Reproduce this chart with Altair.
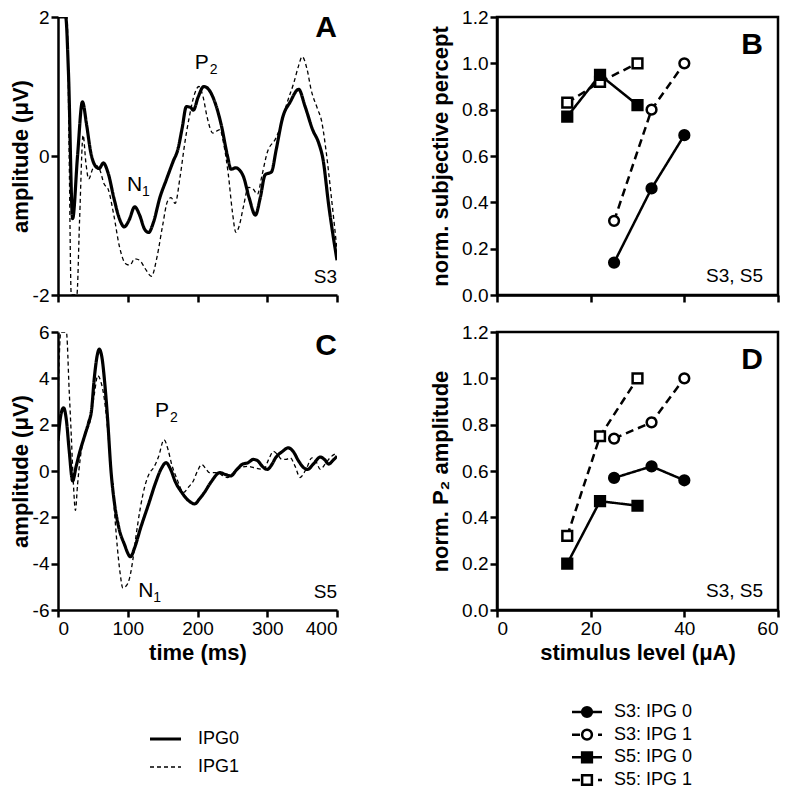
import altair as alt
import pandas as pd

FONT = "Liberation Sans"

# ---------------- Panel A (S3) waveforms: (time ms, amplitude uV); values beyond the axis are held at its limit ----------------
a_ipg0 = [(0, 2.0), (11, 2.0), (15, 1.2), (21, -0.9), (28, 0.0), (35, 0.78), (41, 0.45), (47, 0.05),
          (54, -0.15), (59, -0.18), (65, -0.1), (72, -0.25), (80, -0.6), (88, -0.9), (95, -1.02),
          (102, -0.92), (110, -0.73), (117, -0.85), (124, -1.05), (130, -1.1), (137, -0.95),
          (146, -0.6), (155, -0.35), (165, -0.08), (172, 0.1), (178, 0.4), (184, 0.71), (190, 0.7),
          (194, 0.66), (201, 0.85), (209, 1.0), (215, 0.97), (222, 0.85), (234, 0.45), (243, 0.0),
          (248, -0.19), (255, -0.17), (260, -0.2), (266, -0.3), (274, -0.6), (283, -0.85),
          (290, -0.6), (297, -0.27), (306, -0.23), (313, 0.1), (322, 0.55), (333, 0.78),
          (345, 0.96), (354, 0.72), (365, 0.38), (374, 0.18), (380, -0.05), (388, -0.7), (400, -1.5)]
a_ipg1 = [(0, 2.0), (13, 2.0), (16, 0.0), (19, -2.0), (27, -2.0), (31, -0.9), (36, 0.3), (40, -0.1),
          (44, -0.33), (50, -0.18), (55, -0.14), (60, -0.2), (66, -0.4), (72, -0.48), (80, -0.85),
          (88, -1.3), (97, -1.55), (103, -1.57), (110, -1.48), (117, -1.5), (125, -1.62),
          (134, -1.73), (142, -1.45), (150, -1.0), (157, -0.65), (162, -0.6), (168, -0.68),
          (175, -0.3), (182, 0.2), (188, 0.55), (196, 0.9), (202, 1.0), (208, 0.85), (214, 0.55),
          (222, 0.33), (232, 0.38), (238, 0.15), (244, -0.25), (250, -0.8), (255, -1.1),
          (260, -1.0), (266, -0.72), (273, -0.45), (280, -0.48), (286, -0.55), (292, -0.3),
          (300, 0.05), (312, 0.25), (320, 0.45), (328, 0.75), (338, 1.05), (345, 1.3), (350, 1.43),
          (357, 1.25), (363, 0.95), (372, 0.68), (378, 0.5), (384, 0.1), (392, -0.6), (400, -1.35)]

# ---------------- Panel C (S5) waveforms ----------------
c_ipg0 = [(0, 1.3), (4, 2.4), (8, 2.73), (12, 2.2), (16, 0.9), (21, -0.43), (26, 0.2), (31, 0.8),
          (38, 1.5), (44, 2.1), (48, 2.6), (52, 4.0), (57, 5.1), (59, 5.26), (63, 4.9), (67, 3.8),
          (71, 2.3), (76, 0.0), (81, -1.4), (87, -2.42), (95, -3.15), (104, -3.7), (110, -3.3),
          (118, -2.5), (130, -1.42), (140, -0.5), (148, 0.1), (155, 0.36), (161, 0.1), (168, -0.45),
          (178, -0.95), (188, -1.3), (196, -1.42), (203, -1.2), (210, -0.92), (220, -0.45),
          (232, -0.07), (240, -0.15), (248, -0.21), (256, 0.05), (265, 0.3), (272, 0.35),
          (280, 0.5), (286, 0.45), (293, 0.2), (300, 0.07), (306, 0.25), (312, 0.57), (322, 0.85),
          (330, 1.0), (337, 0.85), (345, 0.43), (352, 0.15), (358, 0.07), (366, 0.3), (376, 0.6),
          (382, 0.5), (388, 0.3), (394, 0.45), (400, 0.64)]
c_ipg1 = [(0, 3.0), (4, 6.0), (12, 6.0), (16, 3.5), (19, 1.56), (22, -0.5), (25, -1.7), (28, -0.6),
          (32, 0.57), (38, 1.56), (46, 2.13), (52, 3.3), (57, 4.12), (61, 3.9), (66, 3.2),
          (71, 1.85), (76, 0.0), (80, -1.4), (85, -3.27), (89, -4.4), (93, -5.05), (98, -4.95),
          (102, -4.69), (107, -3.9), (111, -2.99), (118, -1.6), (125, -0.6), (131, -0.1),
          (137, 0.14), (144, 0.6), (152, 1.35), (158, 0.9), (163, 0.28), (170, -0.3), (180, -0.92),
          (187, -0.7), (194, -0.43), (200, 0.0), (206, 0.28), (212, 0.1), (217, -0.07),
          (229, -0.07), (236, -0.2), (243, -0.28), (252, -0.05), (262, 0.14), (272, 0.2),
          (281, 0.14), (295, 0.07), (302, 0.5), (309, 0.85), (315, 0.7), (321, 0.5), (327, 0.5),
          (333, 0.57), (340, 0.2), (347, -0.28), (356, 0.1), (364, 0.57), (370, 0.4), (376, 0.07),
          (383, 0.3), (390, 0.57), (400, 0.78)]

# ---------------- Panels B / D: stimulus level (uA) vs normalised values ----------------
legend_order = ["S3: IPG 0", "S3: IPG 1", "S5: IPG 0", "S5: IPG 1"]
s3_levels = [25, 33, 40]
s5_levels = [15, 22, 30]
b_s3_ipg0 = [0.14, 0.46, 0.69]
b_s3_ipg1 = [0.32, 0.80, 1.00]
b_s5_ipg0 = [0.77, 0.95, 0.82]
b_s5_ipg1 = [0.83, 0.92, 1.00]
d_s3_ipg0 = [0.57, 0.62, 0.56]
d_s3_ipg1 = [0.74, 0.81, 1.00]
d_s5_ipg0 = [0.20, 0.47, 0.45]
d_s5_ipg1 = [0.32, 0.75, 1.00]

wave_series = ["IPG0", "IPG1"]

# annotation texts (data coordinates)
a_peaks = {"lab": ["N", "P"], "sub": ["1", "2"], "t": [99, 196], "v": [-0.5, 1.25]}
c_peaks = {"lab": ["P", "N"], "sub": ["2", "1"], "t": [139, 115], "v": [2.33, -5.44]}

WL, WR, H = 279, 281, 278


def wave_df(s0, s1):
    rows = [{"t": t, "v": v, "series": "IPG0"} for t, v in s0]
    rows += [{"t": t, "v": v, "series": "IPG1"} for t, v in s1]
    return pd.DataFrame(rows)


wave_dash = alt.Scale(domain=wave_series, range=[[1, 0], [4, 3]])
wave_width = alt.Scale(domain=wave_series, range=[3.2, 1.3])


def wave_panel(df, ydom, yvals, show_x, letter, letter_v, subj, subj_v, peaks):
    xax = alt.Axis(values=[0, 100, 200, 300, 400], labels=show_x,
                   title="time (ms)" if show_x else None)
    yax = alt.Axis(values=yvals, title="amplitude (\u03bcV)", labelExpr="'' + datum.value",
                   titlePadding=0)
    x = alt.X("t:Q", scale=alt.Scale(domain=[0, 400], nice=False), axis=xax)
    y = alt.Y("v:Q", scale=alt.Scale(domain=ydom, nice=False), axis=yax)
    lines = alt.Chart(df).mark_line(color="black", interpolate="monotone", clip=True).encode(
        x=x, y=y,
        strokeDash=alt.StrokeDash("series:N", scale=wave_dash, legend=None),
        strokeWidth=alt.StrokeWidth("series:N", scale=wave_width, legend=None),
    )
    ldf = pd.DataFrame({"t": [400], "v": [letter_v], "txt": [letter]})
    let = alt.Chart(ldf).mark_text(font=FONT, fontSize=30, fontWeight="bold", align="right",
                                   baseline="alphabetic", color="black").encode(
        x="t:Q", y="v:Q", text="txt:N")
    sdf = pd.DataFrame({"t": [400], "v": [subj_v], "txt": [subj]})
    sub = alt.Chart(sdf).mark_text(font=FONT, fontSize=19, align="right", baseline="alphabetic",
                                   color="black").encode(x="t:Q", y="v:Q", text="txt:N")
    pdf = pd.DataFrame(peaks)
    pk = alt.Chart(pdf).mark_text(font=FONT, fontSize=21, align="left", baseline="alphabetic",
                                  color="black").encode(x="t:Q", y="v:Q", text="lab:N")
    pks = alt.Chart(pdf).mark_text(font=FONT, fontSize=14, align="left", baseline="alphabetic",
                                   dx=15, dy=5, color="black").encode(x="t:Q", y="v:Q", text="sub:N")
    return alt.layer(lines, let, sub, pk, pks).properties(
        width=WL, height=H, view=alt.ViewBackground(stroke="transparent"))


def stim_df(s3a, s3b, s5a, s5b):
    rows = []
    for name, lv, vals in [("S3: IPG 0", s3_levels, s3a), ("S3: IPG 1", s3_levels, s3b),
                           ("S5: IPG 1", s5_levels, s5b), ("S5: IPG 0", s5_levels, s5a)]:
        for l, v in zip(lv, vals):
            rows.append({"level": l, "value": v, "series": name})
    return pd.DataFrame(rows)


dash_scale = alt.Scale(domain=legend_order, range=[[1, 0], [8, 5], [1, 0], [8, 5]])
shape_scale = alt.Scale(domain=legend_order, range=["circle", "circle", "square", "square"])
fill_scale = alt.Scale(domain=legend_order, range=["black", "white", "black", "white"])
size_scale = alt.Scale(domain=legend_order, range=[95, 95, 135, 135])


def stim_panel(df, ytitle, show_x, letter):
    if show_x:
        xax = alt.Axis(values=[0, 20, 40, 60], labels=True, labelFlush=True,
                       title="stimulus level (\u03bcA)")
    else:
        xax = alt.Axis(values=[0, 20, 40, 60], labels=False, title=None)
    yax = alt.Axis(values=[0, 0.2, 0.4, 0.6, 0.8, 1.0, 1.2], format=".1f", title=ytitle,
                   titlePadding=9)
    x = alt.X("level:Q", scale=alt.Scale(domain=[0, 60], nice=False), axis=xax)
    y = alt.Y("value:Q", scale=alt.Scale(domain=[0, 1.2], nice=False), axis=yax)
    lines = alt.Chart(df).mark_line(color="black", strokeWidth=2.5).encode(
        x=x, y=y, detail="series:N",
        strokeDash=alt.StrokeDash("series:N", scale=dash_scale, legend=None))
    pts = alt.Chart(df).mark_point(filled=True, opacity=1, stroke="black", strokeWidth=2.5).encode(
        x=x, y=y,
        shape=alt.Shape("series:N", scale=shape_scale, legend=None),
        fill=alt.Fill("series:N", scale=fill_scale, legend=None),
        size=alt.Size("series:N", scale=size_scale, legend=None))
    ldf = pd.DataFrame({"level": [56.8], "value": [1.04], "txt": [letter]})
    let = alt.Chart(ldf).mark_text(font=FONT, fontSize=30, fontWeight="bold", align="right",
                                   baseline="alphabetic", color="black").encode(
        x="level:Q", y="value:Q", text="txt:N")
    sdf = pd.DataFrame({"level": [56.8], "value": [0.055], "txt": ["S3, S5"]})
    sub = alt.Chart(sdf).mark_text(font=FONT, fontSize=19, align="right", baseline="alphabetic",
                                   color="black").encode(x="level:Q", y="value:Q", text="txt:N")
    return alt.layer(lines, pts, let, sub).properties(
        width=WR, height=H, view=alt.ViewBackground(stroke="black", strokeWidth=2.5))


panel_a = wave_panel(wave_df(a_ipg0, a_ipg1), [-2, 2], [-2, 0, 2], False, "A", 1.71, "S3", -1.83, a_peaks)
panel_c = wave_panel(wave_df(c_ipg0, c_ipg1), [-6, 6], [-6, -4, -2, 0, 2, 4, 6], True, "C", 5.02, "S5", -5.49, c_peaks)
panel_b = stim_panel(stim_df(b_s3_ipg0, b_s3_ipg1, b_s5_ipg0, b_s5_ipg1), "norm. subjective percept", False, "B")
panel_d = stim_panel(stim_df(d_s3_ipg0, d_s3_ipg1, d_s5_ipg0, d_s5_ipg1), "norm. P\u2082 amplitude", True, "D")

# ---------------- legends ----------------
LH = 141
lw = pd.DataFrame({"label": wave_series})
ly = alt.Y("label:N", scale=alt.Scale(type="point", domain=wave_series, range=[92, 120], padding=0), axis=None)
leg_left = alt.layer(
    alt.Chart(lw).mark_rule(color="black").encode(
        x=alt.value(92), x2=alt.value(123), y=ly,
        strokeDash=alt.StrokeDash("label:N", scale=wave_dash, legend=None),
        strokeWidth=alt.StrokeWidth("label:N", scale=wave_width, legend=None)),
    alt.Chart(lw).mark_text(font=FONT, fontSize=18, align="left", baseline="middle", color="black").encode(
        x=alt.value(140), y=ly, text="label:N"),
).properties(width=WL, height=LH, view=alt.ViewBackground(stroke="transparent"))

ls = pd.DataFrame({"label": legend_order})
ry = alt.Y("label:N", scale=alt.Scale(type="point", domain=legend_order, range=[65, 133], padding=0), axis=None)
leg_right = alt.layer(
    alt.Chart(ls).mark_rule(color="black", strokeWidth=2.5).encode(
        x=alt.value(75), x2=alt.value(105), y=ry,
        strokeDash=alt.StrokeDash("label:N", scale=dash_scale, legend=None)),
    alt.Chart(ls).mark_point(filled=True, opacity=1, stroke="black", strokeWidth=2.5).encode(
        x=alt.value(90), y=ry,
        shape=alt.Shape("label:N", scale=shape_scale, legend=None),
        fill=alt.Fill("label:N", scale=fill_scale, legend=None),
        size=alt.Size("label:N", scale=size_scale, legend=None)),
    alt.Chart(ls).mark_text(font=FONT, fontSize=18, align="left", baseline="middle", color="black").encode(
        x=alt.value(117), y=ry, text="label:N"),
).properties(width=WR, height=LH, view=alt.ViewBackground(stroke="transparent"))

chart = alt.concat(panel_a, panel_b, panel_c, panel_d, leg_left, leg_right,
                   columns=2, spacing={"row": 37, "column": 160}, bounds="flush").properties(
    padding={"left": 0, "top": -2, "right": 0, "bottom": 0}
).resolve_scale(x="independent", y="independent", strokeDash="independent", shape="independent",
                fill="independent", size="independent", strokeWidth="independent"
).configure_axis(
    domainColor="black", domainWidth=2.5, tickColor="black", tickWidth=2.5, tickSize=7,
    labelFont=FONT, labelFontSize=19, labelColor="black", labelPadding=2,
    titleFont=FONT, titleFontSize=22, titleFontWeight="bold", titleColor="black",
    grid=False,
).configure_view(stroke="transparent")

chart.save("out.html", embed_options={"renderer": "svg", "actions": False})
